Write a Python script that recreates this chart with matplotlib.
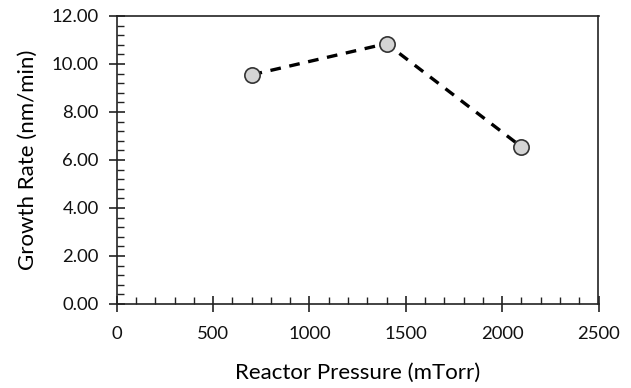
import matplotlib
matplotlib.use("Agg")
import matplotlib.pyplot as plt
from matplotlib.ticker import MultipleLocator, FormatStrFormatter

pressure = [700, 1400, 2100]
growth_rate = [9.55, 10.85, 6.55]

plt.rcParams['font.family'] = ['Lato', 'DejaVu Sans']

fig = plt.figure(figsize=(6.31, 3.88), dpi=100)
L, R, T, B = 116.7, 598.5, 16, 304
ax = fig.add_axes([L/631, 1 - B/388, (R-L)/631, (B-T)/388])

ax.plot(pressure, growth_rate, linestyle='--', color='black', linewidth=2.4,
        dashes=(3.2, 2.6), marker='o', markersize=11, markerfacecolor='#d4d4d4',
        markeredgecolor='#333333', markeredgewidth=1.2, zorder=3)

ax.set_xlim(0, 2500)
ax.set_ylim(0, 12)
ax.xaxis.set_major_locator(MultipleLocator(500))
ax.xaxis.set_minor_locator(MultipleLocator(100))
ax.yaxis.set_major_locator(MultipleLocator(2))
ax.yaxis.set_minor_locator(MultipleLocator(0.4))
ax.yaxis.set_major_formatter(FormatStrFormatter('%.2f'))

for s in ax.spines.values():
    s.set_linewidth(1.2)
    s.set_color('#222222')

ax.tick_params(axis='both', which='major', direction='inout', length=12, width=1.2,
               labelsize=13.3, colors='#222222', labelcolor='#111111')
ax.tick_params(axis='both', which='minor', direction='in', length=5, width=1.0,
               colors='#222222')
ax.tick_params(axis='x', which='major', pad=10)
ax.tick_params(axis='y', which='major', pad=7)

ax.set_xlabel('Reactor Pressure (mTorr)', fontsize=16, labelpad=15)
ax.set_ylabel('Growth Rate (nm/min)', fontsize=16, labelpad=10)

fig.savefig('out.png', dpi=100)
